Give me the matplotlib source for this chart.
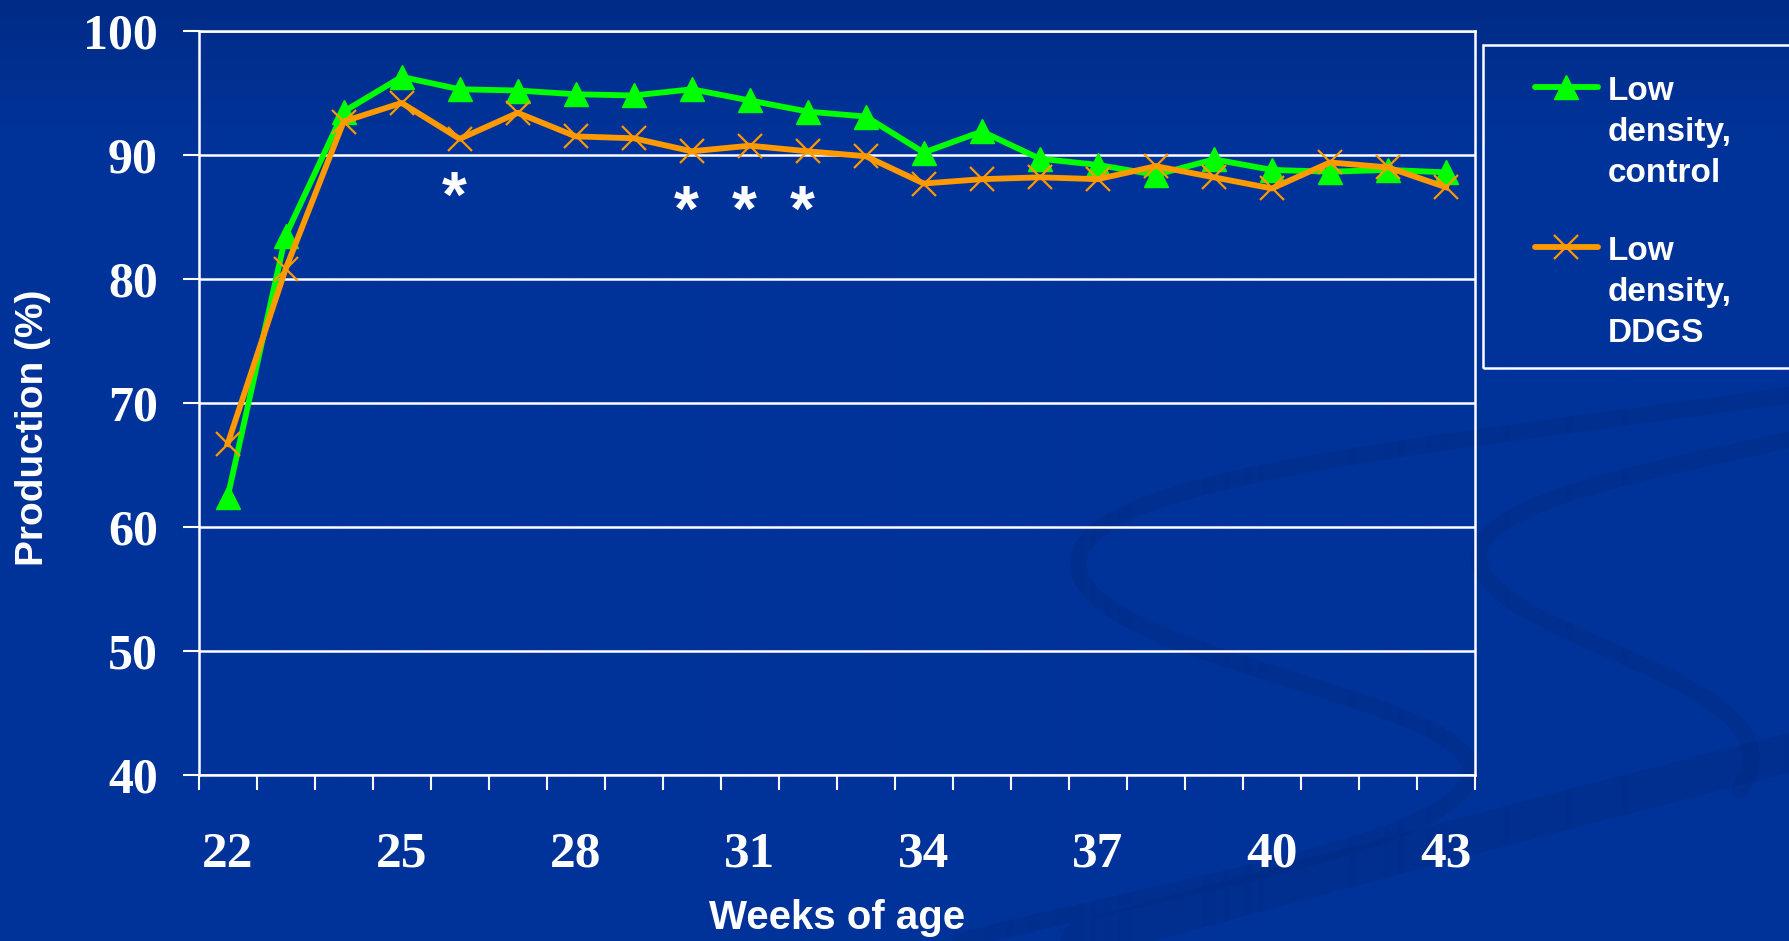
import numpy as np
import matplotlib
matplotlib.use("Agg")
import matplotlib.pyplot as plt
from matplotlib.path import Path
from matplotlib.patches import PathPatch, Rectangle
from matplotlib.lines import Line2D
from matplotlib.transforms import IdentityTransform

# data
weeks = list(range(22, 44))
control = [62.4, 83.5, 93.5, 96.3, 95.3, 95.2, 94.9, 94.8, 95.3, 94.4, 93.5,
           93.1, 90.2, 91.9, 89.7, 89.2, 88.4, 89.65, 88.8, 88.65, 88.8, 88.6]
ddgs = [66.7, 80.8, 92.7, 94.2, 91.3, 93.4, 91.5, 91.35, 90.3, 90.75, 90.3,
        89.9, 87.7, 88.05, 88.2, 88.05, 89.1, 88.2, 87.3, 89.4, 89.0, 87.4]
signif_weeks = [26, 30, 31, 32]
signif_y = [88.0, 86.9, 86.9, 86.9]
series_labels = ["Low\ndensity,\ncontrol", "Low\ndensity,\nDDGS"]
x_ticklabels = [22, 25, 28, 31, 34, 37, 40, 43]
y_ticks = [40, 50, 60, 70, 80, 90, 100]

W, H = 1790, 941
green = "#00FF00"
orange = "#FF9900"
bg = "#003399"

fig = plt.figure(figsize=(W / 100, H / 100), dpi=100)
fig.patch.set_facecolor(bg)

# background gradient (slightly darker at the top)
grad = np.ones((H, 1, 3))
top = np.array([0, 44, 135]) / 255
base = np.array([0, 51, 153]) / 255
t = np.clip(np.arange(H) / 140.0, 0, 1)[:, None]
grad[:, 0, :] = top * (1 - t) + base * t
bgax = fig.add_axes([0, 0, 1, 1], zorder=-10)
bgax.imshow(grad, aspect="auto", extent=[0, 1, 0, 1])
bgax.axis("off")

# decorative swooshes of the slide template (display pixel coords)
def swoosh(pts, lw, alpha=0.35):
    verts = [(x, H - y) for x, y in pts]
    codes = [Path.MOVETO] + [Path.CURVE4] * (len(verts) - 1)
    fig.add_artist(PathPatch(Path(verts, codes), transform=IdentityTransform(),
                             facecolor="none", edgecolor="#00287F", lw=lw,
                             alpha=alpha, zorder=-5, capstyle="round"))

swoosh([(1790, 395), (1400, 450), (1050, 480), (1080, 575),
        (1110, 660), (1470, 700), (1470, 770),
        (1470, 840), (1200, 880), (960, 941)], 12)
swoosh([(1790, 440), (1600, 480), (1400, 520), (1510, 600),
        (1600, 660), (1800, 700), (1740, 790)], 12)
swoosh([(1080, 941), (1300, 880), (1600, 800), (1800, 750)], 28, 0.35)

ax = fig.add_axes([198.6 / W, 1 - 775 / H, (1475 - 198.6) / W, (775 - 31) / H])
ax.set_facecolor("none")

ax.plot(weeks, control, color=green, lw=4.2, marker="^", ms=17,
        markerfacecolor=green, markeredgecolor=green, zorder=3)
ax.plot(weeks, ddgs, color=orange, lw=4.2, marker="x", ms=17, mew=1.6,
        markeredgecolor=orange, zorder=4)

for wk, yv in zip(signif_weeks, signif_y):
    ax.text(wk - 0.1, yv - 3.0, "*", color="white", fontsize=46,
            fontweight="bold", family="Liberation Sans", ha="center",
            va="baseline", zorder=5)

ax.set_xlim(21.5, 43.5)
ax.set_ylim(40, 100)
ax.set_yticks(y_ticks)
ax.set_xticks(x_ticklabels)
ax.set_xticklabels([str(v) for v in x_ticklabels])
ax.set_xticks(np.arange(21.5, 44, 1), minor=True)
ax.grid(axis="y", color="white", lw=1.8, zorder=1)
for sp in ax.spines.values():
    sp.set_color("white")
    sp.set_linewidth(1.8)

ax.tick_params(axis="y", colors="white", direction="out", length=11.5,
               width=1.5, pad=18, labelsize=36)
ax.tick_params(axis="x", which="major", length=0, pad=41, colors="white",
               labelsize=37)
ax.tick_params(axis="x", which="minor", direction="out", length=11,
               width=1.5, colors="white")
for lab in ax.get_yticklabels():
    lab.set_family("Liberation Serif")
    lab.set_fontweight("bold")
for lab in ax.get_xticklabels():
    lab.set_family("Liberation Serif")
    lab.set_fontweight("bold")

fig.text(837 / W, 1 - 929 / H, "Weeks of age", color="white", fontsize=29,
         fontweight="bold", family="Liberation Sans", ha="center", va="baseline")
fig.text(33 / W, 1 - 428 / H, "Production (%)", color="white", fontsize=28,
         fontweight="bold", family="Liberation Sans", ha="center", va="center",
         rotation=90)

# legend box drawn by hand so the handle sits on the first line
fig.add_artist(Rectangle((1483, H - 368), 400, 323, transform=IdentityTransform(),
                         facecolor="none", edgecolor="white", lw=1.8))
handles = [dict(color=green, marker="^", ms=17, mew=1),
           dict(color=orange, marker="x", ms=17, mew=1.6)]
first_baseline = [100, 260]
handle_y = [87, 247]
for lab, hs, yb, yh in zip(series_labels, handles, first_baseline, handle_y):
    fig.add_artist(Line2D([1535, 1598], [H - yh, H - yh], lw=4.2,
                          color=hs["color"], transform=IdentityTransform(),
                          solid_capstyle="round"))
    fig.add_artist(Line2D([1566], [H - yh], marker=hs["marker"], ms=hs["ms"],
                          mew=hs["mew"], color=hs["color"], lw=0,
                          transform=IdentityTransform()))
    for i, line in enumerate(lab.split("\n")):
        fig.text(1608 / W, 1 - (yb + 41 * i) / H, line, color="white",
                 fontsize=24, fontweight="bold", family="Liberation Sans",
                 ha="left", va="baseline")

fig.savefig("out.png", dpi=100, facecolor=fig.get_facecolor())
